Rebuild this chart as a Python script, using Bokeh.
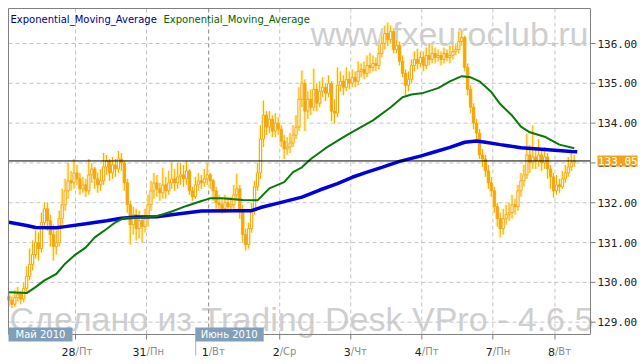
from bokeh.plotting import figure
from bokeh.models import Range1d, ColumnDataSource
from bokeh.core.properties import value
from bokeh.embed import file_html
from bokeh.resources import INLINE

# ---------------- data (hourly candles, 27 May - 8 Jun 2010) ----------------
opens = [129.65, 129.55, 129.45, 129.62, 129.70, 129.58, 129.85, 130.15, 130.45, 130.70,
         131.00, 130.85, 131.50, 131.85, 131.55, 131.20, 130.90, 131.00, 131.60, 131.95,
         132.30, 132.55, 132.50, 132.75, 132.60, 132.35, 132.45, 132.30, 132.70, 132.85,
         132.60, 132.45, 132.55, 132.90, 133.05, 132.75, 132.95, 132.85, 133.10, 133.00,
         132.50, 131.95, 131.45, 131.70, 131.35, 131.55, 131.40, 131.60, 131.95, 132.30,
         132.50, 132.35, 132.25, 132.45, 132.30, 132.50, 132.60, 132.50, 132.65, 132.70,
         132.60, 132.80, 132.30, 132.15, 132.45, 132.55, 132.50, 132.60, 132.70, 132.55,
         132.30, 132.00, 131.95, 131.85, 132.00, 131.90, 131.95, 132.20, 132.35, 131.80,
         131.20, 130.95, 131.35, 131.80, 132.40, 132.75, 133.60, 134.20, 133.90, 134.10,
         133.80, 134.00, 133.85, 133.55, 133.35, 133.40, 133.50, 133.70, 133.90, 134.60,
         135.00, 134.30, 134.60, 134.40, 134.85, 134.50, 134.80, 134.90, 134.75, 135.00,
         134.30, 134.25, 134.95, 135.05, 134.90, 135.10, 135.00, 135.15, 135.05, 135.30,
         135.35, 135.25, 135.45, 135.40, 135.50, 135.45, 135.75, 136.00, 136.25, 136.10,
         136.30, 135.85, 135.95, 135.55, 135.25, 134.95, 135.10, 135.45, 135.60, 135.50,
         135.65, 135.45, 135.70, 135.60, 135.75, 135.65, 135.70, 135.60, 135.75, 135.65,
         135.70, 135.80, 135.85, 136.05, 136.15, 135.40, 134.85, 134.40, 134.00, 133.75,
         133.20, 133.10, 132.80, 132.50, 132.30, 131.90, 131.60, 131.35, 131.60, 131.70,
         131.75, 131.95, 131.90, 132.30, 132.55, 132.70, 133.20, 133.00, 133.15, 133.05,
         133.20, 133.00, 133.15, 132.85, 132.65, 132.30, 132.45, 132.40, 132.60, 132.75,
         132.90, 133.00]
highs = [129.75, 129.65, 129.80, 129.88, 129.78, 129.98, 130.40, 130.85, 131.05, 131.30,
         131.25, 131.75, 132.00, 132.00, 131.70, 131.45, 131.30, 131.80, 132.35, 132.60,
         133.00, 132.80, 133.10, 132.95, 132.75, 132.65, 132.60, 133.10, 133.00, 132.90,
         132.75, 132.85, 133.25, 133.20, 133.10, 133.15, 133.10, 133.30, 133.25, 133.05,
         132.60, 132.05, 131.90, 131.85, 131.80, 131.70, 131.85, 132.20, 132.55, 132.75,
         132.70, 132.50, 132.88, 132.65, 132.80, 133.00, 132.85, 133.00, 133.00, 132.95,
         133.05, 132.85, 132.40, 132.65, 132.75, 132.70, 132.85, 133.00, 132.75, 132.60,
         132.40, 132.20, 132.10, 132.20, 132.15, 132.15, 132.45, 132.73, 132.45, 131.95,
         131.35, 131.50, 132.00, 132.55, 133.00, 133.95, 134.57, 134.30, 134.30, 134.20,
         134.25, 134.15, 133.95, 133.70, 133.65, 133.75, 133.95, 134.20, 134.90, 135.32,
         135.10, 134.80, 134.85, 135.37, 135.00, 135.05, 135.15, 135.00, 135.20, 135.05,
         134.60, 135.40, 135.30, 135.20, 135.40, 135.30, 135.35, 135.30, 135.55, 135.50,
         135.55, 135.70, 135.77, 135.70, 135.65, 135.95, 136.20, 136.45, 136.53, 136.45,
         136.35, 136.10, 136.05, 135.70, 135.35, 135.30, 135.60, 135.80, 135.87, 135.80,
         135.80, 135.90, 136.00, 135.95, 135.90, 135.85, 135.80, 135.90, 135.85, 135.95,
         135.95, 136.00, 136.30, 136.33, 136.20, 135.50, 134.95, 134.50, 134.10, 133.85,
         133.35, 133.20, 132.95, 132.65, 132.40, 132.00, 131.75, 131.85, 131.95, 132.00,
         132.20, 132.10, 132.45, 132.75, 132.95, 133.74, 133.45, 133.94, 133.40, 133.60,
         133.35, 133.40, 133.25, 132.95, 132.75, 132.70, 132.60, 132.80, 132.95, 133.15,
         133.30, 133.20]
lows = [129.40, 129.35, 129.38, 129.52, 129.45, 129.50, 129.75, 130.05, 130.30, 130.60,
        130.55, 130.75, 131.35, 131.30, 130.90, 130.55, 130.70, 130.90, 131.45, 131.80,
        132.10, 132.30, 132.35, 132.45, 132.20, 132.25, 132.15, 132.20, 132.50, 132.35,
        132.25, 132.30, 132.45, 132.70, 132.55, 132.60, 132.65, 132.75, 132.80, 132.30,
        131.75, 130.95, 131.20, 131.05, 131.10, 131.00, 131.25, 131.40, 131.80, 132.10,
        132.15, 132.05, 132.10, 132.10, 132.20, 132.35, 132.30, 132.35, 132.45, 132.40,
        132.45, 132.20, 132.05, 132.10, 132.30, 132.35, 132.40, 132.45, 132.35, 132.05,
        131.85, 131.75, 131.73, 131.75, 131.78, 131.80, 131.85, 132.05, 131.60, 131.00,
        130.80, 130.85, 131.25, 131.70, 132.30, 132.60, 133.40, 133.70, 133.75, 133.65,
        133.65, 133.70, 133.40, 133.10, 133.20, 133.25, 133.40, 133.60, 133.80, 134.40,
        133.80, 134.10, 134.20, 134.30, 134.30, 134.40, 134.65, 134.55, 134.65, 134.05,
        133.99, 134.15, 134.80, 134.70, 134.80, 134.85, 134.90, 134.90, 134.95, 135.15,
        135.10, 135.15, 135.25, 135.30, 135.30, 135.35, 135.65, 135.85, 135.95, 136.00,
        135.75, 135.75, 135.45, 135.15, 134.70, 134.80, 135.00, 135.30, 135.35, 135.40,
        135.30, 135.35, 135.45, 135.50, 135.50, 135.55, 135.45, 135.50, 135.55, 135.50,
        135.60, 135.70, 135.75, 135.95, 135.30, 134.70, 134.25, 133.85, 133.55, 133.10,
        132.90, 132.65, 132.35, 132.15, 131.75, 131.40, 131.13, 131.20, 131.45, 131.55,
        131.60, 131.70, 131.80, 132.15, 132.40, 132.60, 132.75, 132.85, 132.85, 132.90,
        132.80, 132.85, 132.60, 132.35, 132.13, 132.20, 132.25, 132.35, 132.50, 132.65,
        132.80, 132.90]
closes = [129.55, 129.45, 129.62, 129.70, 129.58, 129.85, 130.15, 130.45, 130.70, 131.00,
          130.85, 131.50, 131.85, 131.55, 131.20, 130.90, 131.00, 131.60, 131.95, 132.30,
          132.55, 132.50, 132.75, 132.60, 132.35, 132.45, 132.30, 132.70, 132.85, 132.60,
          132.45, 132.55, 132.90, 133.05, 132.75, 132.95, 132.85, 133.10, 133.00, 132.50,
          131.95, 131.45, 131.70, 131.35, 131.55, 131.40, 131.60, 131.95, 132.30, 132.50,
          132.35, 132.25, 132.45, 132.30, 132.50, 132.60, 132.50, 132.65, 132.70, 132.60,
          132.80, 132.30, 132.15, 132.45, 132.55, 132.50, 132.60, 132.70, 132.55, 132.30,
          132.00, 131.95, 131.85, 132.00, 131.90, 131.95, 132.20, 132.35, 131.80, 131.20,
          130.95, 131.35, 131.80, 132.40, 132.75, 133.60, 134.20, 133.90, 134.10, 133.80,
          134.00, 133.85, 133.55, 133.35, 133.40, 133.50, 133.70, 133.90, 134.60, 135.00,
          134.30, 134.60, 134.40, 134.85, 134.50, 134.80, 134.90, 134.75, 135.00, 134.30,
          134.25, 134.95, 135.05, 134.90, 135.10, 135.00, 135.15, 135.05, 135.30, 135.35,
          135.25, 135.45, 135.40, 135.50, 135.45, 135.75, 136.00, 136.25, 136.10, 136.30,
          135.85, 135.95, 135.55, 135.25, 134.95, 135.10, 135.45, 135.60, 135.50, 135.65,
          135.45, 135.70, 135.60, 135.75, 135.65, 135.70, 135.60, 135.75, 135.65, 135.70,
          135.80, 135.85, 136.05, 136.15, 135.40, 134.85, 134.40, 134.00, 133.75, 133.20,
          133.10, 132.80, 132.50, 132.30, 131.90, 131.60, 131.35, 131.60, 131.70, 131.75,
          131.95, 131.90, 132.30, 132.55, 132.70, 133.20, 133.00, 133.15, 133.05, 133.20,
          133.00, 133.15, 132.85, 132.65, 132.30, 132.45, 132.40, 132.60, 132.75, 132.90,
          133.00, 133.05]
bars = list(range(len(closes)))

# exponential moving averages (read at bar positions)
ema_fast_x = [0, 6, 9, 12, 16, 19, 22, 26, 29, 33, 36, 39, 43, 50, 55, 60, 64, 68, 72, 79,
              84, 88, 93, 96, 99, 102, 107, 114, 123, 129, 133, 136, 140, 145, 149, 153,
              156, 159, 163, 166, 170, 173, 176, 181, 186, 191]
ema_fast_y = [129.75, 129.73, 129.88, 130.05, 130.21, 130.47, 130.67, 130.88, 131.13, 131.34,
              131.51, 131.62, 131.62, 131.66, 131.78, 131.92, 132.02, 132.11, 132.11, 132.07,
              132.06, 132.36, 132.52, 132.77, 132.89, 133.10, 133.37, 133.69, 134.07, 134.40,
              134.65, 134.72, 134.76, 134.88, 135.05, 135.18, 135.15, 135.05, 134.78, 134.48,
              134.19, 133.91, 133.77, 133.66, 133.46, 133.37]
ema_slow_x = [0, 6, 9, 16, 19, 26, 33, 38, 43, 50, 55, 65, 78, 82, 85, 92, 99, 105, 111,
              116, 121, 126, 132, 139, 144, 149, 154, 158, 161, 166, 173, 181, 190, 192]
ema_slow_y = [131.51, 131.43, 131.38, 131.37, 131.40, 131.47, 131.55, 131.61, 131.64, 131.65,
              131.70, 131.79, 131.80, 131.80, 131.88, 132.01, 132.14, 132.32, 132.48,
              132.64, 132.77, 132.89, 133.04, 133.17, 133.28, 133.39, 133.52, 133.55, 133.52,
              133.46, 133.38, 133.34, 133.29, 133.28]

day_starts = [22.5, 46.5, 67.5, 91.5, 115.5, 139.5, 163.5, 184.5]
day_nums = ["28", "31", "1", "2", "3", "4", "7", "8"]
day_names = ["/Пт", "/Пн", "/Вт", "/Ср", "/Чт", "/Пт", "/Пн", "/Вт"]
month_names = ["Май 2010", "Июнь 2010"]
month_start_index = 2          # day_starts[2] is 1 June
price_ticks = [129, 130, 131, 132, 133, 134, 135, 136]
last_price = 133.05
legend_names = ["Exponential_Moving_Average", "Exponential_Moving_Average"]

# ---------------- plot box / canvas geometry ----------------
X0, X1 = -0.14, 196.5          # visible bar range inside the chart box
Y0, Y1 = 128.69, 136.88        # visible price range inside the chart box
BOX_W, BOX_H = 582, 326        # chart box in pixels
M_LEFT, M_RIGHT, M_TOP, M_BOTTOM = 8, 54, 8, 30
sx = BOX_W / (X1 - X0)
sy = BOX_H / (Y1 - Y0)

ORANGE = "#f4a614"
GLOW = "#fff3a8"
BLUE = "#0000dd"
GREEN = "#087808"
GRID = "#c4c4c4"
FRAME = "#808080"
TAG = "#819fb9"
PRICE_TAG = "#f2a31b"

p = figure(width=BOX_W + M_LEFT + M_RIGHT, height=BOX_H + M_TOP + M_BOTTOM,
           output_backend="svg", toolbar_location=None,
           x_range=Range1d(X0 - M_LEFT / sx, X1 + M_RIGHT / sx),
           y_range=Range1d(Y0 - M_BOTTOM / sy, Y1 + M_TOP / sy),
           x_axis_location=None, y_axis_location=None, min_border=0)
p.background_fill_color = "white"
p.border_fill_color = "white"
p.outline_line_color = None
p.xgrid.visible = False
p.ygrid.visible = False

# watermarks
p.text(x=[X1], y=[Y1], text=["www.fxeuroclub.ru"], x_offset=-2, y_offset=25,
       text_align="right", text_baseline="alphabetic", text_font=value("Liberation Sans"),
       text_font_size="34px", text_color="#cfcfcf")
p.text(x=[X0], y=[Y0], text=["Сделано из Trading Desk VPro - 4.6.5"], x_offset=1, y_offset=-16,
       text_align="left", text_baseline="alphabetic", text_font=value("Liberation Sans"),
       text_font_size="34px", text_color="#cfcfcf")

# grid
p.segment(x0=[X0] * len(price_ticks), y0=price_ticks, x1=[X1] * len(price_ticks), y1=price_ticks,
          line_color=GRID, line_dash="4 3", line_width=1)
grid_colors = ["#888888" if i == month_start_index else GRID for i in range(len(day_starts))]
p.segment(x0=day_starts, y0=[Y0] * len(day_starts), x1=day_starts, y1=[Y1] * len(day_starts),
          line_color=grid_colors, line_dash="4 3", line_width=1)

# candles
up = [c >= o for o, c in zip(opens, closes)]
src = ColumnDataSource(dict(
    x=bars, h=highs, l=lows,
    top=[max(o, c) for o, c in zip(opens, closes)],
    bottom=[min(o, c) for o, c in zip(opens, closes)],
    fill=["white" if u else ORANGE for u in up],
))
p.segment(x0="x", y0="l", x1="x", y1="h", source=src, line_color=GLOW, line_width=4, line_alpha=0.8)
p.vbar(x="x", top="top", bottom="bottom", width=1.5, source=src, fill_color=GLOW,
       fill_alpha=0.8, line_color=None)
p.segment(x0="x", y0="l", x1="x", y1="h", source=src, line_color=ORANGE, line_width=1)
p.vbar(x="x", top="top", bottom="bottom", width=0.72, source=src, fill_color="fill",
       line_color=ORANGE, line_width=1)

# moving averages
p.line(ema_slow_x, ema_slow_y, line_color=BLUE, line_width=3.5)
p.line(ema_fast_x, ema_fast_y, line_color=GREEN, line_width=2)

# last price line
p.segment(x0=[X0], y0=[last_price], x1=[X1], y1=[last_price], line_color="black", line_width=1)

# chart box border
p.quad(left=[X0], right=[X1], bottom=[Y0], top=[Y1], fill_color=None, line_color=FRAME,
       line_width=1)

# right price axis: ticks + labels
n = len(price_ticks)
p.segment(x0=[X1] * n, y0=price_ticks, x1=[X1 + 5 / sx] * n, y1=price_ticks,
          line_color=FRAME, line_width=1)
p.text(x=[X1] * n, y=price_ticks, text=[f"{t:.2f}" for t in price_ticks], x_offset=7,
       text_align="left", text_baseline="middle", text_font=value("DejaVu Sans Mono"),
       text_font_size="11px", text_color="#202020")

# bottom time axis: ticks + two-tone labels
m = len(day_starts)
p.segment(x0=day_starts, y0=[Y0] * m, x1=day_starts, y1=[Y0 - 5 / sy] * m,
          line_color=FRAME, line_width=1)
p.text(x=day_starts, y=[Y0] * m, text=day_nums, y_offset=17, text_align="right",
       text_baseline="middle", text_font=value("DejaVu Sans"), text_font_size="11px",
       text_color="#202020")
p.text(x=day_starts, y=[Y0] * m, text=day_names, y_offset=17, text_align="left",
       text_baseline="middle", text_font=value("DejaVu Sans"), text_font_size="10px",
       text_color="#8a8a8a")

# month separator + month tags (box + text)
june_left = day_starts[month_start_index] - 13 / sx
p.segment(x0=[june_left], y0=[Y0 + 7 / sy], x1=[june_left], y1=[Y0 - 21 / sy],
          line_color="#9fb3c6", line_width=1)
tag_left = [X0, june_left]
tag_right = [X0 + 64 / sx, june_left + 68 / sx]
p.quad(left=tag_left, right=tag_right, bottom=[Y0 - 7 / sy] * 2, top=[Y0 + 7 / sy] * 2,
       fill_color=TAG, line_color=None)
p.text(x=tag_left, y=[Y0] * 2, text=month_names, x_offset=[7, 5], text_align="left",
       text_baseline="middle", text_font=value("DejaVu Sans"), text_font_size="10px",
       text_color="white")

# last price tag on the axis
p.quad(left=[X1 + 7 / sx], right=[X1 + 47 / sx], bottom=[last_price - 5.5 / sy],
       top=[last_price + 5.5 / sy], fill_color=PRICE_TAG, line_color=None)
p.text(x=[X1], y=[last_price], text=[f"{last_price:.2f}"], x_offset=7.5, text_align="left",
       text_baseline="middle", text_font=value("DejaVu Sans Mono"), text_font_size="11px",
       text_color="white")

# legend texts
p.text(x=[X0], y=[Y1], text=[legend_names[0]], x_offset=2, y_offset=10.5,
       text_align="left", text_baseline="alphabetic", text_font=value("DejaVu Sans"),
       text_font_size="10px", text_color="#000080")
p.text(x=[X0], y=[Y1], text=[legend_names[1]], x_offset=155, y_offset=10.5,
       text_align="left", text_baseline="alphabetic", text_font=value("DejaVu Sans"),
       text_font_size="10px", text_color="#006400")

open("out.html", "w").write(file_html(p, INLINE))
